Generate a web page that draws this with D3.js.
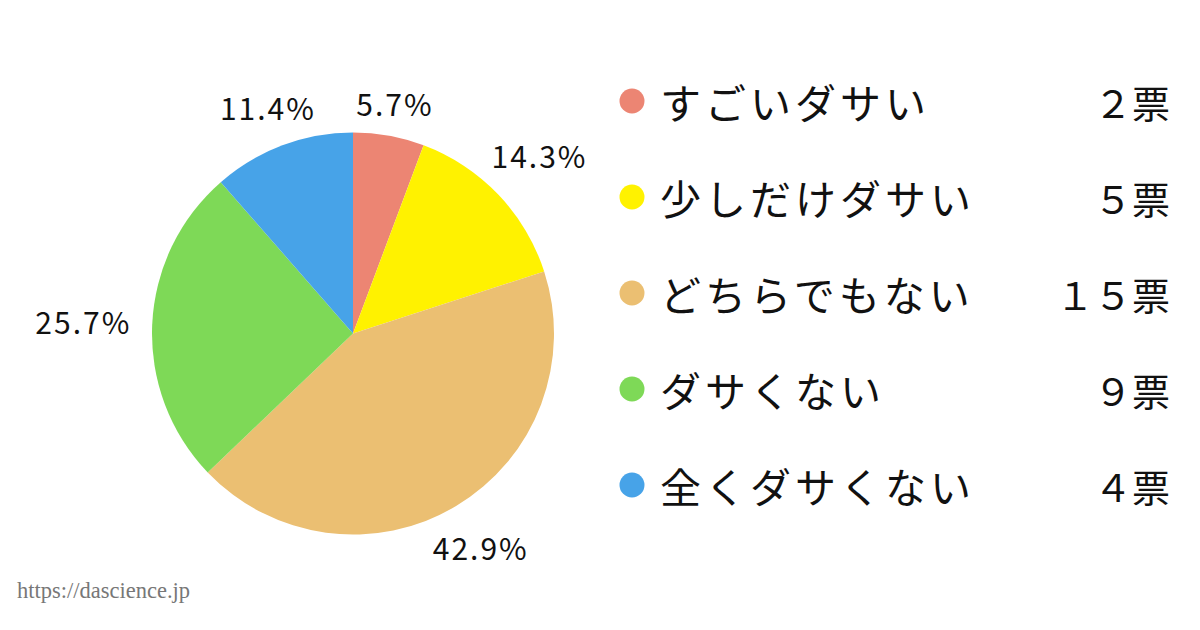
<!DOCTYPE html>
<html><head><meta charset="utf-8">
<script src="https://cdn.jsdelivr.net/npm/d3@7"></script>
<style>html,body{margin:0;padding:0;background:#fff;}svg{display:block;}</style>
</head><body>
<svg id="c" width="1200" height="630"></svg>
<script>
const categories = ["すごいダサい","少しだけダサい","どちらでもない","ダサくない","全くダサくない"];
const votes = [2,5,15,9,4];
const voteLabels = ["２票","５票","１５票","９票","４票"];
const colors = ["#EC8573","#FFF200","#EBBF72","#7ED957","#47A3E8"];

const svg = d3.select("#c");
const font = "'Noto Sans CJK JP','Noto Sans',sans-serif";
const cx = 353, cy = 333.5, r = 201;
const total = d3.sum(votes);
const pie = d3.pie().sort(null).value(d=>d)(votes);
const arc = d3.arc().innerRadius(0).outerRadius(r);
const g = svg.append("g").attr("transform",`translate(${cx},${cy})`);
g.selectAll("path").data(pie).join("path").attr("d",arc).attr("fill",(d,i)=>colors[i]);

g.selectAll("text.pct").data(pie).join("text").attr("class","pct")
  .attr("font-family",font).attr("font-size",30).attr("fill","#111")
  .attr("letter-spacing",2)
  .attr("text-anchor","middle").attr("dominant-baseline","central")
  .text(d=>(d.value/total*100).toFixed(1)+"%")
  .each(function(d){
    const a=(d.startAngle+d.endAngle)/2;
    const dist = r + 26 + 43*Math.abs(Math.sin(a));
    d3.select(this).attr("x",Math.sin(a)*dist).attr("y",-Math.cos(a)*dist);
  });

const ly = d3.scalePoint().domain(d3.range(categories.length)).range([101,485]);
const lg = svg.append("g");
lg.selectAll("circle").data(categories).join("circle")
  .attr("cx",632).attr("cy",(d,i)=>ly(i)).attr("r",12.5).attr("fill",(d,i)=>colors[i]);
lg.selectAll("text.cat").data(categories).join("text").attr("class","cat")
  .attr("x",660).attr("y",(d,i)=>ly(i)).attr("dominant-baseline","central")
  .attr("font-family",font).attr("font-size",41).attr("fill","#111")
  .attr("letter-spacing",4).text(d=>d);
lg.selectAll("text.val").data(voteLabels).join("text").attr("class","val")
  .attr("x",1170).attr("y",(d,i)=>ly(i)).attr("dominant-baseline","central")
  .attr("text-anchor","end")
  .attr("font-family",font).attr("font-size",38).attr("fill","#111").text(d=>d);

svg.append("text").attr("x",17).attr("y",598)
  .attr("font-family","'Liberation Serif','DejaVu Serif',serif").attr("font-size",22.5)
  .attr("fill","#777").text("https://dascience.jp");
</script>
</body></html>
